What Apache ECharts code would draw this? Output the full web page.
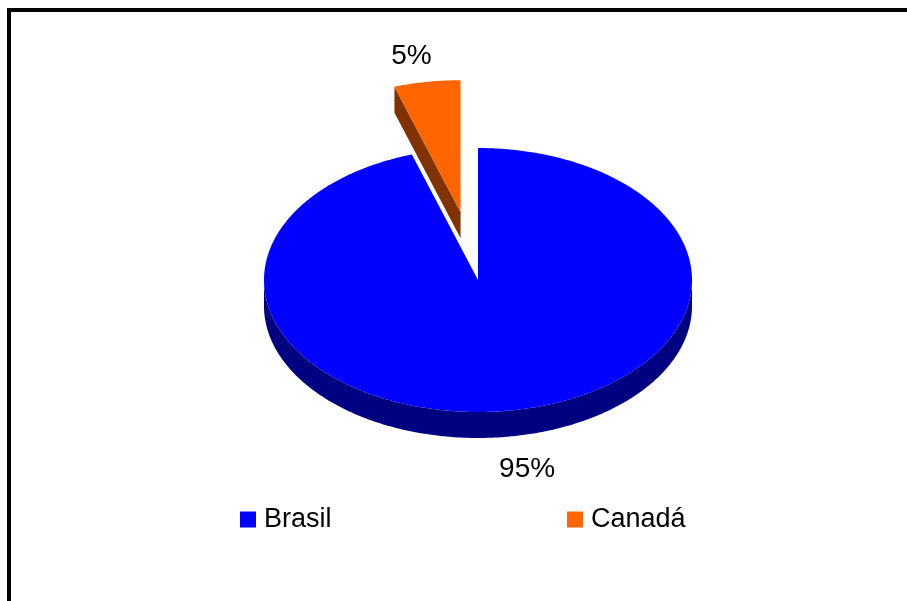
<!DOCTYPE html>
<html><head><meta charset="utf-8">
<script src="https://cdn.jsdelivr.net/npm/echarts@6/dist/echarts.min.js"></script>
<style>html,body{margin:0;padding:0;background:#fff}#c{width:907px;height:601px}</style>
</head><body><div id="c"></div>
<script>
const categories = ['Brasil', 'Canadá'];
const values = [95, 5];
const topColors = ['#0000FF', '#FF6600'];
const sideColors = ['#000080', '#803300'];
const explode = [0, 0.52];

const FONT = 'Liberation Sans, Arial, sans-serif';
const CX = 478, CY = 280, RX = 214, RY = 132, DEPTH = 26;
const total = values.reduce((a, b) => a + b, 0);
const starts = [];
let acc = 0;
values.forEach(v => { starts.push(acc / total * 360); acc += v; });

function pt(cx, cy, deg, dy) {
  const r = deg * Math.PI / 180;
  return [cx + RX * Math.sin(r), cy - RY * Math.cos(r) + (dy || 0)];
}

function makeRender(i) {
  return function (params, api) {
    const v = api.value(0);
    const a = starts[i], b = a + v / total * 360;
    const m = (a + b) / 2, mr = m * Math.PI / 180;
    const d = explode[i] * RX;
    const cx = CX + d * Math.sin(mr), cy = CY - d * Math.cos(mr) * RY / RX;
    const children = [];
    const s = Math.max(a, 90), e = Math.min(b, 270);
    if (e > s) {
      const top = [], bot = [];
      for (let t = s; t < e; t += 0.5) { top.push(pt(cx, cy, t)); bot.push(pt(cx, cy, t, DEPTH)); }
      top.push(pt(cx, cy, e)); bot.push(pt(cx, cy, e, DEPTH));
      children.push({ type: 'polygon', shape: { points: top.concat(bot.reverse()) }, style: { fill: sideColors[i] } });
    }
    function face(ang) {
      const p = pt(cx, cy, ang), q = pt(cx, cy, ang, DEPTH);
      children.push({ type: 'polygon', shape: { points: [[cx, cy], p, q, [cx, cy + DEPTH]] }, style: { fill: sideColors[i] } });
    }
    if (Math.sin(a * Math.PI / 180) < -1e-6) face(a);
    if (Math.sin(b * Math.PI / 180) > 1e-6) face(b);
    const tp = [[cx, cy]];
    for (let t = a; t < b; t += 0.5) tp.push(pt(cx, cy, t));
    tp.push(pt(cx, cy, b));
    children.push({ type: 'polygon', shape: { points: tp }, style: { fill: topColors[i] } });
    const rim = pt(cx, cy, m, Math.cos(mr) < 0 ? DEPTH : 0);
    children.push({
      type: 'text',
      x: rim[0] + Math.sin(mr) * 100, y: rim[1] - Math.cos(mr) * 29.6 + 4,
      style: { text: Math.round(v / total * 100) + '%', font: '28px ' + FONT, fill: '#000', align: 'center', verticalAlign: 'middle' }
    });
    return { type: 'group', children: children };
  };
}

const series = categories.map((name, i) => ({
  type: 'custom',
  name: name,
  coordinateSystem: 'none',
  z: categories.length - i,
  itemStyle: { color: topColors[i] },
  data: [{ name: name, value: [values[i]] }],
  renderItem: makeRender(i),
  silent: true
}));
series.reverse();

const legendBase = { top: 506, padding: 0, itemWidth: 16, itemHeight: 16, icon: 'rect', selectedMode: false,
  textStyle: { fontSize: 27, color: '#000', fontFamily: FONT, padding: [0, 0, 0, 3] } };

const chart = echarts.init(document.getElementById('c'), null, { renderer: 'canvas' });
chart.setOption({
  animation: false,
  backgroundColor: '#fff',
  graphic: [{ type: 'polyline', shape: { points: [[9, 601], [9, 10], [907, 10]] }, style: { stroke: '#000', lineWidth: 4, fill: null }, z: 100 }],
  legend: [
    Object.assign({}, legendBase, { data: [categories[0]], left: 240 }),
    Object.assign({}, legendBase, { data: [categories[1]], left: 567 })
  ],
  series: series
});
</script></body></html>
